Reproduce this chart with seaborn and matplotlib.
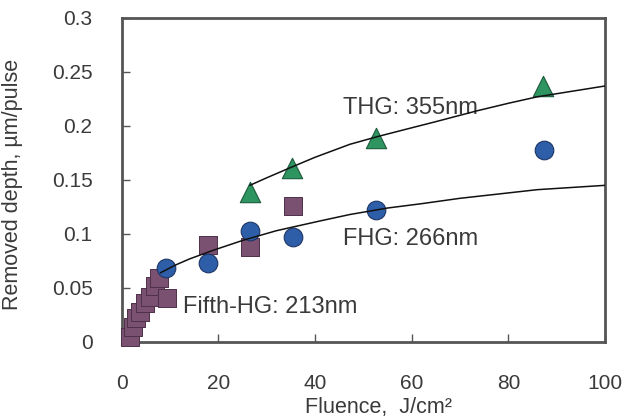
import numpy as np
import pandas as pd
import matplotlib
matplotlib.use("Agg")
import matplotlib.pyplot as plt
import seaborn as sns

fhg_x = [9.1, 17.8, 26.5, 35.4, 52.6, 87.4]
fhg_y = [0.068, 0.073, 0.103, 0.097, 0.122, 0.178]

thg_x = [26.5, 35.2, 52.6, 87.2]
thg_y = [0.139, 0.161, 0.189, 0.237]

fifth_x = [1.7, 2.3, 2.9, 3.7, 4.8, 5.8, 6.8, 7.7, 9.3, 17.8, 26.5, 35.4]
fifth_y = [0.005, 0.014, 0.022, 0.028, 0.036, 0.042, 0.052, 0.059, 0.041, 0.090, 0.088, 0.126]

# trend curves
thg_curve_x = [26.5, 30, 35.2, 40, 47.2, 52.8, 58, 65, 73.5, 80, 86, 93, 100]
thg_curve_y = [0.145, 0.152, 0.162, 0.171, 0.183, 0.190, 0.196, 0.204, 0.214, 0.221, 0.227, 0.232, 0.237]
fhg_curve_x = [8, 11, 14.1, 19, 25, 32, 41, 47.2, 55, 62, 70, 78, 86, 93, 100]
fhg_curve_y = [0.064, 0.071, 0.077, 0.085, 0.094, 0.103, 0.112, 0.118, 0.124, 0.128,
               0.133, 0.137, 0.141, 0.143, 0.145]

x_ticks = [0, 20, 40, 60, 80, 100]
y_ticks = [0, 0.05, 0.1, 0.15, 0.2, 0.25, 0.3]
y_tick_labels = ["0", "0.05", "0.1", "0.15", "0.2", "0.25", "0.3"]

sns.set_theme(style="white")
plt.rcParams["font.family"] = ["Liberation Sans", "DejaVu Sans"]

txt = "#3a3a3a"
fig = plt.figure(figsize=(6.31, 4.17), dpi=100)
ax = fig.add_axes([0.193, 0.180, 0.766, 0.777])

sns.scatterplot(x=fifth_x, y=fifth_y, marker="s", s=150, color="#7b5172",
                edgecolor="#4e3048", linewidth=0.7, ax=ax, clip_on=False, zorder=3)
sns.scatterplot(x=fhg_x, y=fhg_y, marker="o", s=180, color="#2f5ea8",
                edgecolor="#1d3564", linewidth=0.8, ax=ax, clip_on=False, zorder=3)
sns.scatterplot(x=thg_x, y=thg_y, marker="^", s=215, color="#2e9460",
                edgecolor="#1c5a3a", linewidth=0.8, ax=ax, clip_on=False, zorder=3)

sns.lineplot(x=thg_curve_x, y=thg_curve_y, color="#111111", lw=1.1,
             sort=False, estimator=None, ax=ax, zorder=5)
sns.lineplot(x=fhg_curve_x, y=fhg_curve_y, color="#111111", lw=1.1,
             sort=False, estimator=None, ax=ax, zorder=5)

ax.text(45.8, 0.217, "THG: 355nm", fontsize=17, color=txt, va="center", ha="left", zorder=4)
ax.text(45.8, 0.0956, "FHG: 266nm", fontsize=17, color=txt, va="center", ha="left", zorder=4)
ax.text(12.6, 0.032, "Fifth-HG: 213nm", fontsize=17, color=txt, va="center", ha="left", zorder=4)

ax.set_xlim(0, 100)
ax.set_ylim(0, 0.3)
ax.set_xticks(x_ticks)
ax.set_yticks(y_ticks)
ax.set_yticklabels(y_tick_labels)
ax.tick_params(axis="both", direction="in", length=6, width=1, color="#555555",
               labelsize=15, labelcolor=txt, bottom=True, left=True)
ax.tick_params(axis="x", pad=23)
ax.tick_params(axis="y", pad=21)
for s in ax.spines.values():
    s.set_color("#555555")
    s.set_linewidth(2)

ax.set_xlabel("Fluence,  J/cm²", fontsize=15.5, color=txt)
ax.xaxis.set_label_coords(0.53, -0.17)
ax.set_ylabel("Removed depth, µm/pulse", fontsize=15.5, color=txt)
ax.yaxis.set_label_coords(-0.205, 0.485)

fig.savefig("out.png", dpi=100)
